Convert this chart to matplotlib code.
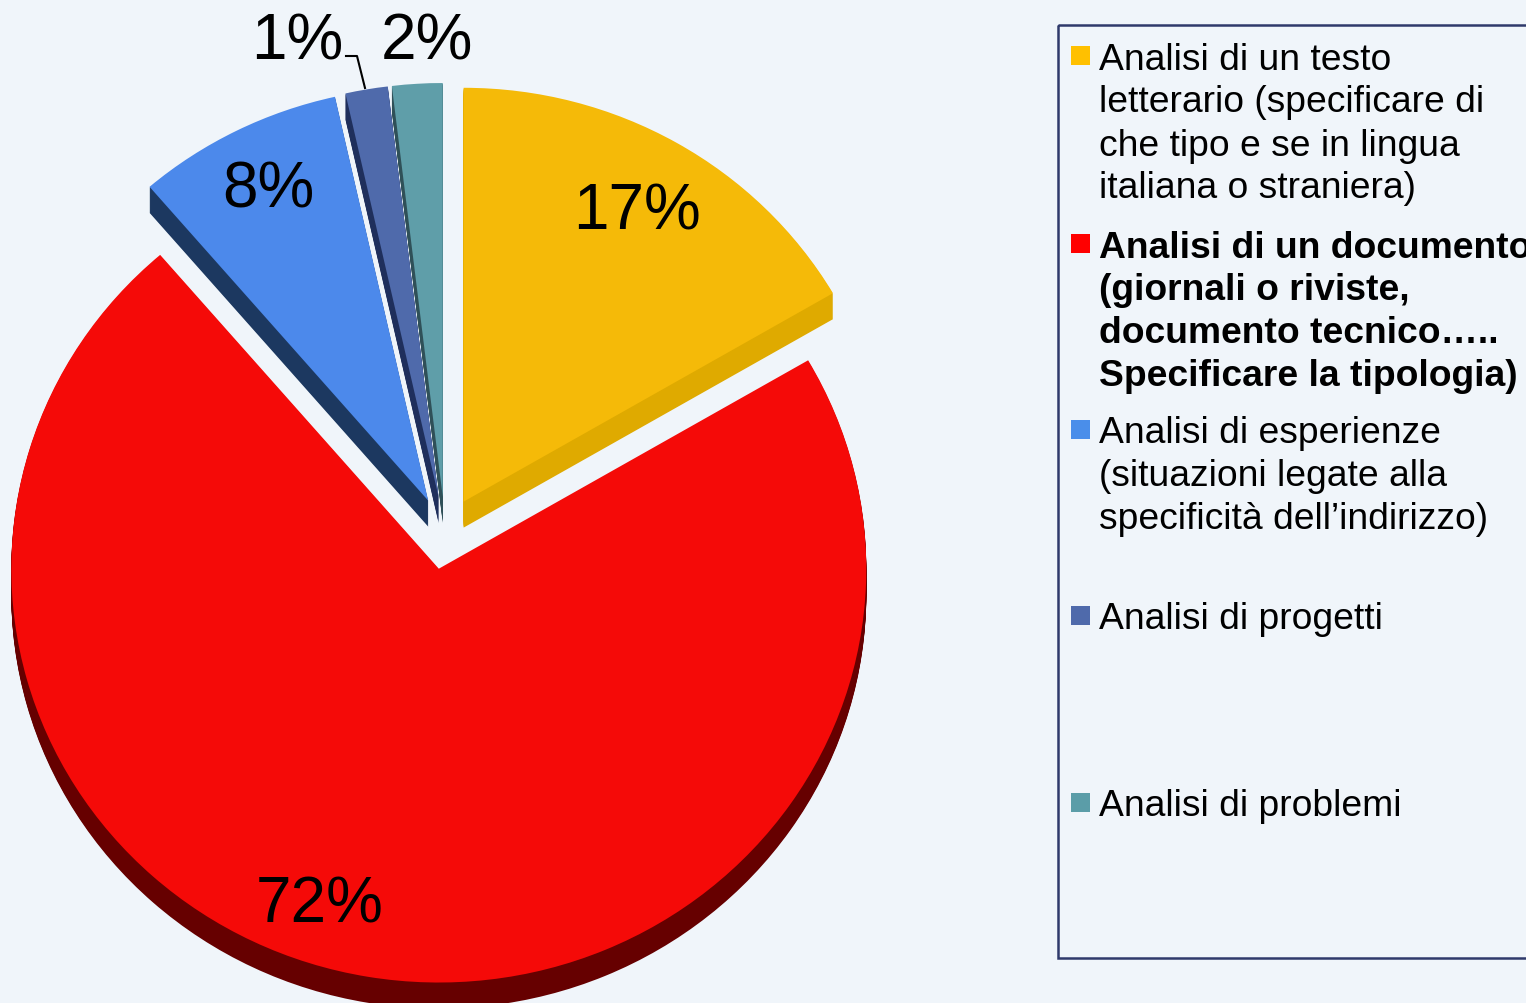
import matplotlib
matplotlib.use("Agg")
from matplotlib import pyplot as plt
from matplotlib.patches import Rectangle

plt.rcParams["font.family"] = ["Liberation Sans", "DejaVu Sans"]

# data
values = [16.6, 72.1, 7.8, 1.6, 1.9]
labels = ["17%", "72%", "8%", "1%", "2%"]
top_colors = ["#F5BA08", "#F50A08", "#4C89EB", "#4F6AAB", "#5F9EA9"]
side_colors = ["#DFAA00", "#660000", "#1C3860", "#1F2F5C", "#2F5058"]
legend_colors = ["#FFC000", "#FF0000", "#4A8EEA", "#4F6AAB", "#5B9DA8"]
legend_lines = [
    ["Analisi di un testo", "letterario (specificare di", "che tipo e se in lingua", "italiana o straniera)"],
    ["Analisi di un documento", "(giornali o riviste,", "documento tecnico\u2026..", "Specificare la tipologia)"],
    ["Analisi di esperienze", "(situazioni legate alla", "specificit\u00e0 dell\u2019indirizzo)"],
    ["Analisi di progetti"],
    ["Analisi di problemi"],
]
legend_bold = [False, True, False, False, False]
legend_y = [56, 244, 430, 616, 803]
label_pos = [(637, 213), (320, 906), (268, 191), (297, 42), (427, 43)]

W, H = 1526, 1004
BG = "#F0F5FA"
SQUASH = 0.968
DEPTH = 26
RADIUS = 427.5
EXPLODE = 37.4
CX, CY = 445, 534

fig = plt.figure(figsize=(W / 100, H / 100), dpi=100)
fig.patch.set_facecolor(BG)

# pie axes, y squashed a little for the tilt
ax = fig.add_axes([0, 0, 1, 1])
center_y = (H - CY) / SQUASH

# side faces first, stacked downwards
for d in range(DEPTH, 0, -1):
    ax.pie(values, colors=side_colors, startangle=90, counterclock=False, radius=RADIUS,
           center=(CX, center_y - d / SQUASH), explode=[EXPLODE] * len(values),
           wedgeprops={"linewidth": 0})
ax.pie(values, colors=top_colors, startangle=90, counterclock=False, radius=RADIUS,
       center=(CX, center_y), explode=[EXPLODE] * len(values),
       wedgeprops={"linewidth": 0})
ax.set_aspect("auto")
ax.set_xlim(0, W)
ax.set_ylim(0, H / SQUASH)
ax.axis("off")

# overlay in pixel coordinates for the text
ov = fig.add_axes([0, 0, 1, 1])
ov.set_xlim(0, W)
ov.set_ylim(H, 0)
ov.axis("off")
ov.patch.set_alpha(0)

for text, (x, y) in zip(labels, label_pos):
    ov.text(x, y, text, fontsize=46, ha="center", va="center", color="black")

# leader line of the 1% label
ov.plot([346, 357, 365], [57, 57, 89], color="black", lw=1.5)

# legend box
ov.add_patch(Rectangle((1058, 26), 500, 933, facecolor="none", edgecolor="#2F3A6B", lw=1.8))
for color, lines, bold, y0 in zip(legend_colors, legend_lines, legend_bold, legend_y):
    ov.add_patch(Rectangle((1071, y0 - 9), 19, 19, facecolor=color, edgecolor="none"))
    for i, line in enumerate(lines):
        ov.text(1099, y0 + i * 43, line, fontsize=26.85, va="center_baseline", ha="left", color="black",
                fontweight="bold" if bold else "normal")

fig.savefig("out.png", dpi=100, facecolor=BG)
